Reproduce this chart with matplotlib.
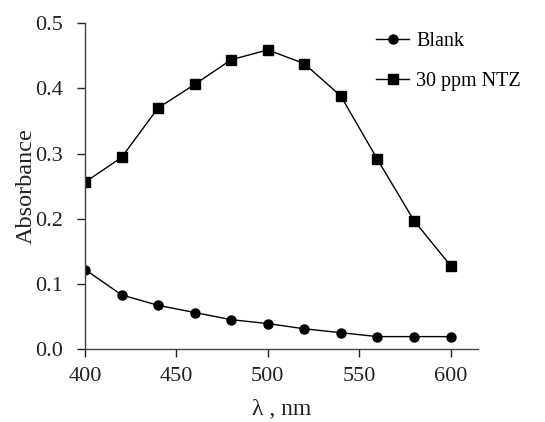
import numpy as np
import matplotlib.pyplot as plt

plt.rcParams['font.family'] = ['Liberation Serif', 'DejaVu Serif']

wavelength = [400, 420, 440, 460, 480, 500, 520, 540, 560, 580, 600]
blank = [0.122, 0.083, 0.067, 0.056, 0.045, 0.039, 0.031, 0.025, 0.019, 0.019, 0.019]
ntz = [0.256, 0.294, 0.370, 0.406, 0.444, 0.459, 0.438, 0.388, 0.291, 0.197, 0.128]

fig = plt.figure(figsize=(5.45, 4.22), dpi=100)
ax = fig.add_axes([0.156, 0.173, 0.721, 0.772])

ax.plot(wavelength, blank, color='black', lw=1, marker='o', ms=6.5, label='Blank')
ax.plot(wavelength, ntz, color='black', lw=1, marker='s', ms=6.5, label='30 ppm NTZ')

ax.set_xlim(400, 615)
ax.set_ylim(0, 0.5)
ax.set_xticks([400, 450, 500, 550, 600])
ax.set_yticks([0.0, 0.1, 0.2, 0.3, 0.4, 0.5])
ax.set_yticklabels(['0.0', '0.1', '0.2', '0.3', '0.4', '0.5'])
ax.tick_params(direction='out', length=6, width=1, labelsize=16, colors='#222222')
ax.tick_params(axis='x', pad=7)
ax.tick_params(axis='y', pad=10)
ax.spines['top'].set_visible(False)
ax.spines['right'].set_visible(False)
for s in ['left', 'bottom']:
    ax.spines[s].set_color('#444444')
    ax.spines[s].set_linewidth(1)

ax.set_xlabel('λ , nm', fontsize=17, color='#222222', labelpad=9)
ax.set_ylabel('Absorbance', fontsize=17.5, color='#222222', labelpad=-1)

fig.legend(loc='upper left', bbox_to_anchor=(0.69, 0.925), frameon=False,
           fontsize=14.5, handlelength=1.65, handletextpad=0.35, labelspacing=1.05,
           borderpad=0, borderaxespad=0)

fig.savefig('out.png', dpi=100)
